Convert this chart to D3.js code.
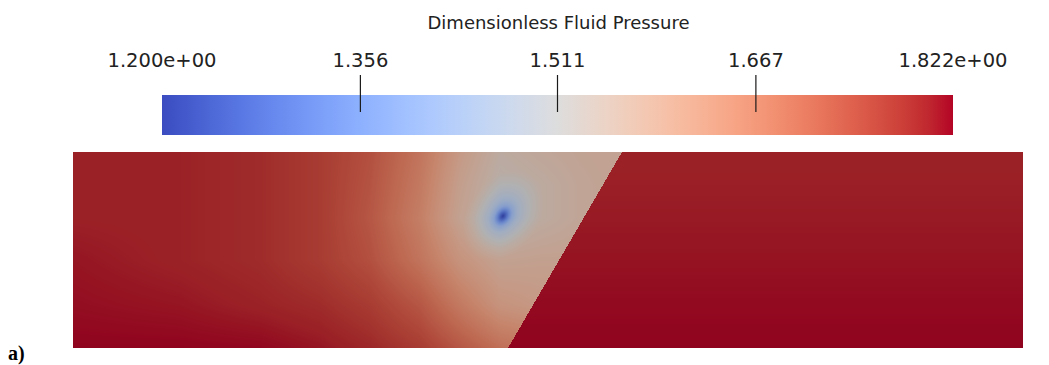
<!DOCTYPE html>
<html>
<head>
<meta charset="utf-8">
<script src="https://cdn.jsdelivr.net/npm/d3@7"></script>
<style>
  html, body { margin: 0; padding: 0; background: #fff; }
  svg { display: block; }
</style>
</head>
<body>
<svg id="chart" width="1049" height="365"></svg>
<script>
// ---------------- DATA ----------------
const legendTitle = "Dimensionless Fluid Pressure";
const pMin = 1.200, pMax = 1.822;
const tickValues = [1.200, 1.356, 1.511, 1.667, 1.822];
const tickLabels = ["1.200e+00", "1.356", "1.511", "1.667", "1.822e+00"];
const panelLabel = "a)";

// ParaView "Cool to Warm" colour map (Moreland), 33 samples
const coolWarmRGB = [
  [59,76,192],[68,90,204],[77,104,215],[87,117,225],[98,130,234],[108,142,241],
  [119,154,247],[130,165,251],[141,176,254],[152,185,255],[163,194,255],[174,201,253],
  [184,208,249],[194,213,244],[204,217,238],[213,219,230],[221,221,221],[229,216,209],
  [236,211,197],[241,204,185],[245,196,173],[247,187,160],[247,177,148],[247,166,135],
  [244,154,123],[241,141,111],[236,127,99],[229,112,88],[222,96,77],[213,80,66],
  [203,62,56],[192,40,47],[180,4,38]
];

// model domain (dimensionless length units)
const domainX = [0, 19.0];
const domainY = [0, 3.92];

// fault trace: top and bottom intersection (model units)
const faultTop = [10.98, 0.0];
const faultBottom = [8.70, 3.92];

// pressure sampled on a grid in the left (pumped) block
const gridX = [0, 2.14, 3.74, 4.94, 5.94, 6.94, 7.74, 8.54, 9.34, 10.14, 11.04];
const gridY = [0, 0.66, 1.32, 2.16, 3.06, 3.92];
const gridP = [
  [1.800, 1.800, 1.790, 1.770, 1.740, 1.680, 1.600, 1.545, 1.560, 1.570, 1.575],
  [1.800, 1.800, 1.790, 1.770, 1.735, 1.670, 1.585, 1.530, 1.545, 1.565, 1.575],
  [1.802, 1.800, 1.790, 1.770, 1.730, 1.660, 1.575, 1.520, 1.545, 1.565, 1.575],
  [1.810, 1.800, 1.790, 1.770, 1.740, 1.680, 1.615, 1.575, 1.580, 1.580, 1.580],
  [1.815, 1.810, 1.800, 1.790, 1.770, 1.730, 1.670, 1.615, 1.600, 1.600, 1.600],
  [1.822, 1.822, 1.820, 1.810, 1.795, 1.770, 1.730, 1.690, 1.670, 1.670, 1.670]
];

// well (sink) location and extra drawdown profile around it
const wellXY = [8.60, 1.28];
const wellR = [0, 0.05, 0.10, 0.16, 0.25, 0.38, 0.52, 0.70];
const wellDrop = [0.32, 0.26, 0.19, 0.12, 0.075, 0.045, 0.02, 0.0];

// right (sealed) block: pressure vs depth
const rightY = [0, 0.98, 1.96, 2.94, 3.92];
const rightP = [1.800, 1.805, 1.810, 1.817, 1.822];

// ---------------- LAYOUT ----------------
const svg = d3.select("#chart");
const bar = { x0: 162, x1: 953, y0: 95, y1: 135 };
const field = { x0: 73, x1: 1023, y0: 152, y1: 348 };
const shade = 0.8;           // diffuse lighting of the rendered surface
const wellAngle = -55 * Math.PI / 180, wellAniso = 1.4;
const fontFam = "'DejaVu Sans', 'Liberation Sans', sans-serif";

// colour scale
const cStops = coolWarmRGB.map((_, i) => pMin + (pMax - pMin) * i / (coolWarmRGB.length - 1));
const color = d3.scaleLinear()
  .domain(cStops)
  .range(coolWarmRGB.map(c => d3.rgb(c[0], c[1], c[2])))
  .interpolate(d3.interpolateRgb)
  .clamp(true);

// ---------------- COLOUR BAR ----------------
const defs = svg.append("defs");
const grad = defs.append("linearGradient").attr("id", "cw")
  .attr("x1", "0%").attr("x2", "100%").attr("y1", "0%").attr("y2", "0%");
grad.selectAll("stop").data(cStops).join("stop")
  .attr("offset", d => ((d - pMin) / (pMax - pMin) * 100) + "%")
  .attr("stop-color", d => color(d));

const xBar = d3.scaleLinear().domain([pMin, pMax]).range([bar.x0, bar.x1]);

svg.append("rect")
  .attr("x", bar.x0).attr("y", bar.y0)
  .attr("width", bar.x1 - bar.x0).attr("height", bar.y1 - bar.y0)
  .attr("fill", "url(#cw)");

svg.append("g").selectAll("line").data(tickValues.slice(1, -1)).join("line")
  .attr("x1", d => xBar(d)).attr("x2", d => xBar(d))
  .attr("y1", 75).attr("y2", 112)
  .attr("stroke", "#1a1a1a").attr("stroke-width", 1.2);

svg.append("g").selectAll("text").data(tickValues).join("text")
  .attr("x", d => xBar(d)).attr("y", 67)
  .attr("text-anchor", "middle")
  .attr("font-family", fontFam).attr("font-size", 19.5)
  .attr("fill", "#222")
  .text((d, i) => tickLabels[i]);

svg.append("text")
  .attr("x", (bar.x0 + bar.x1) / 2 + 1).attr("y", 29)
  .attr("text-anchor", "middle")
  .attr("font-family", fontFam).attr("font-size", 18)
  .attr("fill", "#222")
  .text(legendTitle);

// ---------------- PRESSURE FIELD ----------------
const xS = d3.scaleLinear().domain(domainX).range([field.x0, field.x1]);
const yS = d3.scaleLinear().domain(domainY).range([field.y0, field.y1]);

const W = field.x1 - field.x0, H = field.y1 - field.y0;
const canvas = document.createElement("canvas");
canvas.width = W; canvas.height = H;
const ctx = canvas.getContext("2d");
const img = ctx.createImageData(W, H);

const rowScales = gridP.map(row => d3.scaleLinear().domain(gridX).range(row).clamp(true));
const rightScale = d3.scaleLinear().domain(rightY).range(rightP).clamp(true);
const wellScale = d3.scaleLinear().domain(wellR).range(wellDrop).clamp(true);
const faultX = d3.scaleLinear().domain([faultTop[1], faultBottom[1]]).range([faultTop[0], faultBottom[0]]);
const ca = Math.cos(wellAngle), sa = Math.sin(wellAngle);

for (let px = 0; px < W; px++) {
  const mx = xS.invert(field.x0 + px + 0.5);
  const colScale = d3.scaleLinear().domain(gridY).range(rowScales.map(s => s(mx))).clamp(true);
  for (let py = 0; py < H; py++) {
    const my = yS.invert(field.y0 + py + 0.5);
    let p;
    if (mx > faultX(my)) {
      p = rightScale(my);
    } else {
      p = colScale(my);
      const dx = mx - wellXY[0], dy = (my - wellXY[1]);
      const u = dx * ca + dy * sa, v = -dx * sa + dy * ca;
      const r = Math.sqrt(u * u / (wellAniso * wellAniso) + v * v);
      p -= wellScale(r);
    }
    const c = d3.rgb(color(p));
    const k = 4 * (py * W + px);
    img.data[k] = c.r * shade;
    img.data[k + 1] = c.g * shade;
    img.data[k + 2] = c.b * shade;
    img.data[k + 3] = 255;
  }
}
ctx.putImageData(img, 0, 0);

svg.append("image")
  .attr("x", field.x0).attr("y", field.y0)
  .attr("width", W).attr("height", H)
  .attr("href", canvas.toDataURL());

// ---------------- PANEL LABEL ----------------
svg.append("text")
  .attr("x", 8).attr("y", 360)
  .attr("font-family", "'Liberation Serif', 'Times New Roman', serif")
  .attr("font-weight", "bold").attr("font-size", 20)
  .attr("fill", "#000")
  .text(panelLabel);
</script>
</body>
</html>
